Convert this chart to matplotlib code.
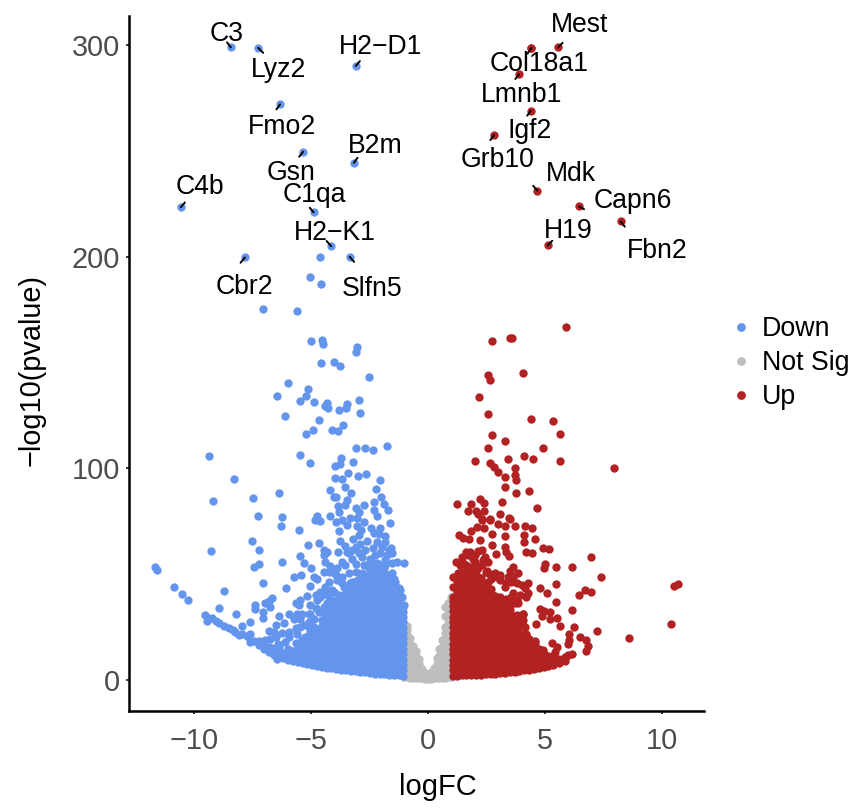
import matplotlib
matplotlib.use("Agg")
import matplotlib.pyplot as plt
from matplotlib.lines import Line2D

plt.rcParams['font.family'] = ['Liberation Sans', 'DejaVu Sans']

# labelled genes
gene_names = ["C3", "Lyz2", "H2\u2212D1", "Fmo2", "Gsn", "B2m", "C4b", "C1qa", "H2\u2212K1", "Cbr2", "Slfn5",
              "Mest", "Col18a1", "Lmnb1", "Igf2", "Grb10", "Mdk", "Capn6", "H19", "Fbn2"]
gene_x = [-8.17, -7.04, -2.99, -6.13, -5.17, -3.07, -10.25, -4.74, -4.01, -7.59, -3.24,
          5.41, 4.30, 3.78, 4.27, 2.75, 4.54, 6.27, 4.97, 8.00]
gene_y = [299.8, 299.6, 291.0, 272.8, 250.3, 245.0, 223.9, 221.5, 205.4, 200.1, 200.4,
          299.8, 299.6, 287.0, 269.7, 258.2, 231.8, 224.3, 205.8, 217.2]
label_x = [-8.34, -6.18, -1.95, -6.06, -5.68, -2.20, -9.46, -4.69, -3.86, -7.59, -2.32,
           6.31, 4.61, 3.90, 4.23, 2.90, 5.93, 8.51, 5.81, 9.50]
label_y = [306.1, 289.0, 299.9, 261.9, 240.2, 252.9, 233.5, 229.7, 211.6, 186.1, 185.1,
           310.3, 291.8, 277.1, 260.0, 246.3, 239.6, 226.8, 212.6, 203.1]
# where the short connector of each label ends
seg_x = [-8.33, -6.83, -2.82, -6.28, -5.34, -2.92, -10.08, -4.90, -4.20, -7.77, -3.06,
         5.59, 4.14, 3.63, 4.12, 2.59, 4.37, 6.48, 5.16, 8.17]
seg_y = [302.2, 297.2, 293.3, 270.4, 247.9, 247.4, 226.2, 223.7, 207.9, 197.6, 198.0,
         302.0, 296.9, 284.8, 267.4, 255.8, 234.1, 223.0, 208.0, 214.7]

# scattered points, read one by one
down_x = [-4.49, -4.87, -4.45, -6.82, -5.41, -4.85, -4.40, -4.36, -2.96, -3.00, -4.44, -3.91, -3.65, -2.44, -5.81,
          -4.98, -6.25, -5.05, -5.30, -4.74, -4.20, -4.27, -4.15, -3.37, -3.40, -3.69, -2.85, -2.81, -5.93, -4.51,
          -3.50, -3.97, -3.72, -4.78, -5.06, -1.69, -3.00, -2.59, -2.27, -9.07, -5.30, -4.90, -3.61, -3.11, -3.65,
          -3.85, -3.31, -2.57, -2.88, -3.86, -3.58, -2.00, -8.05, -3.44, -2.16, -4.08,
          -8.92, -8.98, -11.30, -11.23, -10.54, -10.20, -9.95, -8.47, -8.66, -7.96, -9.26, -9.16, -8.95, -8.68, -8.26,
          -7.98, -7.73, -7.36, -7.85, -7.36, -7.36, -6.88, -7.26, -7.04, -6.17, -6.06, -6.09, -5.33, -7.29, -6.99,
          -6.99, -7.22, -6.82, -6.03, -4.99, -4.53, -5.29, -5.12, -4.84, -5.56, -5.26, -4.73, -4.60, -4.87, -5.88,
          -6.45, -6.60, -6.74, -6.56, -7.18, -7.18, -6.84, -6.84, -6.16, -5.97, -6.32, -6.60, -6.37, -6.05, -5.74,
          -6.56, -6.25, -5.77, -5.49, -5.29, -5.01, -5.42, -5.29, -4.87, -4.66, -5.49, -4.73, -5.08,
          -3.17, -3.88, -3.81, -1.93, -2.22, -3.35, -3.42, -1.83, -3.74, -2.65, -1.65, -3.00, -2.24, -2.11, -2.84,
          -3.70, -4.04, -4.60, -4.69, -4.46, -3.81, -3.56, -3.25, -3.35, -2.96, -2.66, -1.58, -2.94, -3.70, -2.76,
          -2.37, -2.00, -2.24, -2.04, -1.76, -3.12, -2.87, -2.53, -3.63, -3.42, -3.00, -2.10, -1.76, -2.27, -1.51,
          -3.72, -4.32, -4.18, -4.32, -3.35, -2.87, -2.00, -1.69, -1.48, -3.56, -4.25, -3.00, -2.52, -4.07, -4.29,
          -3.97, -3.00, -1.00, -1.28, -3.28, -3.77, -3.56, -4.25, -4.46, -3.90, -3.49, -3.14, -4.11, -4.39, -4.18,
          -4.46, -4.25, -3.97, -3.70, -3.42, -3.21, -2.87, -2.73, -2.45, -2.10, -1.76, -1.48, -1.35, -1.14, -1.00, -1.07,
          -4.11, -4.32, -4.52, -4.73, -4.94, -4.39, -5.08, -5.29, -4.87, -5.22, -5.49, -5.91, -6.19, -5.77, -5.08,
          -4.11, -3.77, -3.42, -3.14, -2.73, -2.38, -2.18, -2.66, -2.24, -1.76, -1.48, -1.90, -2.80, -3.28, -3.14, -2.59,
          -3.83, -3.56, -4.11, -4.66, -4.60, -5.36, -5.22, -4.87, -4.25, -5.56, -4.94, -5.77, -5.42, -4.94, -6.32, -6.74,
          -6.46, -1.62]
down_y = [200.1, 190.6, 187.6, 175.5, 174.8, 160.4, 160.9, 159.1, 157.6, 155.2, 150.1, 150.6, 148.7, 143.5, 140.3,
          137.8, 134.2, 134.2, 131.9, 131.5, 130.8, 129.7, 128.8, 130.4, 128.8, 127.8, 132.4, 126.2, 125.0, 122.8,
          120.5, 118.0, 117.7, 118.0, 116.1, 110.7, 109.5, 109.5, 108.7, 106.0, 106.3, 102.5, 104.7, 103.0, 102.2,
          101.2, 98.0, 97.2, 96.3, 95.2, 94.9, 94.4, 94.8, 91.3, 90.2, 89.7,
          84.4, 61.0, 53.3, 51.7, 43.9, 40.3, 37.3, 42.0, 33.8, 31.0, 30.6, 27.5, 28.8, 26.4, 24.0,
          22.4, 25.1, 26.9, 20.8, 21.6, 17.7, 16.1, 85.9, 77.2, 88.4, 76.7, 72.4, 70.7, 65.5, 61.2,
          54.7, 53.1, 45.8, 55.6, 63.4, 64.7, 58.3, 54.9, 52.5, 48.4, 49.6, 48.4, 47.7, 44.1, 43.3,
          38.6, 37.1, 35.9, 34.3, 35.1, 33.2, 31.6, 29.1, 29.9, 26.4, 25.6, 22.7, 22.1, 21.9, 20.0,
          18.8, 9.3, 31.1, 36.2, 37.4, 39.3, 31.1, 28.7, 35.1, 33.8, 24.0, 24.8, 20.0,
          88.1, 86.5, 86.5, 86.5, 84.1, 85.2, 82.5, 83.3, 82.1, 82.5, 80.0, 81.0, 80.0, 77.5, 79.4,
          79.4, 77.2, 77.3, 75.4, 75.0, 74.6, 75.4, 76.5, 73.1, 76.2, 74.6, 74.2, 72.6, 70.4, 70.7,
          71.5, 71.9, 69.1, 68.8, 68.0, 66.7, 68.3, 65.5, 65.6, 63.1, 62.8, 65.1, 65.1, 62.4, 62.0,
          60.4, 61.2, 60.4, 59.1, 60.4, 59.6, 59.6, 58.8, 59.9, 55.6, 55.6, 54.5, 54.0, 53.6, 50.6,
          50.9, 50.9, 55.0, 55.6, 50.4, 46.9, 48.2, 43.8, 41.4, 41.4, 43.8, 46.2, 39.0, 39.8, 35.9,
          39.0, 41.4, 42.2, 39.8, 43.8, 45.4, 46.9, 50.1, 52.5, 54.9, 54.0, 50.1, 46.2, 42.2, 35.1, 39.0,
          35.9, 34.3, 31.9, 28.7, 31.1, 28.0, 25.6, 24.8, 23.2, 18.5, 16.9, 17.7, 15.3, 13.7, 15.3,
          50.9, 52.5, 54.0, 57.2, 58.0, 57.2, 58.8, 54.0, 54.9, 56.4, 54.9, 62.8, 64.3, 59.6, 61.2, 61.2,
          49.3, 45.4, 46.2, 39.8, 37.4, 35.1, 31.1, 31.1, 31.1, 28.7, 27.2, 22.4, 21.6, 20.8, 20.0, 18.5,
          14.5, 61.2]

# the solid part of the cloud, read column by column
down_columns = [
    (-1.03, [1.6, 4.2, 6.7, 9.1, 11.8, 14.2, 16.9, 19.3, 21.8, 24.4, 26.9, 29.3, 31.8, 34.4]),
    (-1.20, [1.7, 3.1, 5.6, 8.2, 10.7, 13.3, 15.7, 18.4, 20.9, 23.3, 25.9, 28.4, 31.0, 33.4, 36.1, 38.6, 41.2, 43.1]),
    (-1.40, [1.8, 4.4, 6.9, 9.5, 12.1, 14.6, 17.1, 19.7, 22.2, 24.8, 27.3, 29.8, 32.4, 34.9, 37.5, 40.1, 42.6, 45.1, 47.6]),
    (-1.60, [2.0, 3.3, 5.8, 8.3, 10.9, 13.4, 16.0, 18.5, 21.1, 23.6, 26.2, 28.7, 31.3, 33.8, 36.4, 38.9, 41.5, 44.0, 46.6, 49.4]),
    (-1.80, [2.2, 4.6, 7.2, 9.7, 12.3, 14.8, 17.4, 19.9, 22.5, 25.0, 27.6, 30.1, 32.7, 35.2, 37.8, 40.3, 42.9, 45.4, 48.0, 50.5, 52.6]),
    (-2.00, [2.4, 3.6, 6.1, 8.7, 11.2, 13.8, 16.3, 18.9, 21.4, 24.0, 26.5, 29.1, 31.6, 34.2, 36.7, 39.3, 41.8, 44.4, 46.9, 49.5, 52.0, 53.9]),
    (-2.20, [2.6, 5.0, 7.5, 10.1, 12.6, 15.2, 17.7, 20.3, 22.8, 25.4, 27.9, 30.5, 33.0, 35.6, 38.1, 40.7, 43.2, 45.8, 48.3, 50.9, 53.0]),
    (-2.40, [2.9, 4.1, 6.6, 9.2, 11.7, 14.3, 16.8, 19.4, 21.9, 24.5, 27.0, 29.6, 32.1, 34.7, 37.2, 39.8, 42.3, 44.9, 47.4, 50.0, 51.6]),
    (-2.60, [3.1, 5.6, 8.1, 10.7, 13.2, 15.8, 18.3, 20.9, 23.4, 26.0, 28.5, 31.1, 33.6, 36.2, 38.7, 41.3, 43.8, 46.4, 49.1]),
    (-2.80, [3.4, 4.7, 7.2, 9.8, 12.3, 14.9, 17.4, 20.0, 22.5, 25.1, 27.6, 30.2, 32.7, 35.3, 37.8, 40.4, 42.9, 45.5, 47.6]),
    (-3.00, [3.6, 6.2, 8.7, 11.3, 13.8, 16.4, 18.9, 21.5, 24.0, 26.6, 29.1, 31.7, 34.2, 36.8, 39.3, 41.9, 44.4, 46.6]),
    (-3.20, [3.9, 5.4, 7.9, 10.5, 13.0, 15.6, 18.1, 20.7, 23.2, 25.8, 28.3, 30.9, 33.4, 36.0, 38.5, 41.1, 43.7]),
    (-3.40, [4.2, 6.9, 9.4, 12.0, 14.5, 17.1, 19.6, 22.2, 24.7, 27.3, 29.8, 32.4, 34.9, 37.5, 40.0, 42.3]),
    (-3.60, [4.5, 6.0, 8.5, 11.1, 13.6, 16.2, 18.7, 21.3, 23.8, 26.4, 28.9, 31.5, 34.0, 36.6, 39.4]),
    (-3.80, [4.8, 7.6, 10.1, 12.7, 15.2, 17.8, 20.3, 22.9, 25.4, 28.0, 30.5, 33.1, 35.6, 37.3]),
    (-4.00, [5.0, 6.7, 9.2, 11.8, 14.3, 16.9, 19.4, 22.0, 24.5, 27.1, 29.6, 32.2, 34.7]),
    (-4.20, [5.4, 8.2, 10.7, 13.3, 15.8, 18.4, 20.9, 23.5, 26.0, 28.6, 31.2]),
    (-4.40, [5.8, 7.4, 9.9, 12.5, 15.0, 17.6, 20.1, 22.7, 25.2, 27.8]),
    (-4.60, [6.2, 8.9, 11.4, 14.0, 16.5, 19.1, 21.6, 23.6]),
    (-4.80, [6.6, 8.0, 10.5, 13.1, 15.6, 18.2, 20.4]),
    (-5.00, [7.0, 9.5, 12.0, 14.6, 17.1, 18.9]),
    (-5.20, [7.4, 9.0, 11.5, 14.1, 16.3]),
    (-5.40, [7.9, 10.4, 13.0, 15.1]),
    (-5.60, [8.5, 10.9, 13.4]),
    (-5.80, [9.1, 11.6, 14.3]),
    (-6.00, [9.8, 12.3]),
    (-6.20, [10.6, 13.2, 16.4]),
    (-6.40, [11.5, 14.0]),
    (-6.60, [12.6, 15.1]),
    (-6.80, [14.3, 16.7]),
    (-7.00, [16.2, 18.1]),
    (-7.20, [18.0]),
    (-7.50, [20.6]),
    (-7.70, [21.5]),
    (-8.10, [23.2]),
    (-8.45, [25.3]),
    (-8.80, [27.7]),
    (-9.10, [29.2]),
]

up_x = [4.30, 5.74, 2.68, 3.40, 3.49, 2.48, 2.59, 3.93, 2.12, 2.50, 4.26, 5.19, 5.50, 2.68, 3.21, 2.49, 4.76, 3.97, 4.38, 3.33,
        1.96, 5.48, 2.57, 2.74, 2.92, 3.20, 3.62, 3.61, 3.64, 7.72, 3.22, 3.67, 4.19, 2.16, 2.31, 3.06, 1.20, 1.81, 4.51, 1.67,
        1.99, 2.34, 2.99, 2.09, 2.23, 2.57, 3.37,
        7.18, 6.76, 5.96, 5.31, 4.87, 4.83, 4.79, 5.03, 4.07, 4.34, 4.44, 4.00, 4.00, 4.04, 4.34, 3.60, 3.39, 3.20, 2.92,
        2.59, 2.25, 2.02, 1.81, 2.34, 2.67, 3.20, 2.16, 1.30, 1.47, 1.70, 2.68, 3.20, 3.26, 2.82, 3.36, 2.09, 2.25, 1.60,
        1.16, 1.40, 1.88, 2.37, 2.50, 2.09, 2.46, 3.54, 3.40, 3.76, 1.05, 1.40, 2.09, 2.85, 3.33, 2.50, 3.68, 4.14, 4.03,
        4.66, 5.30, 4.95, 6.51, 6.75, 6.25, 5.33, 5.97, 4.65, 4.83, 5.06, 4.72, 5.06, 5.37, 5.50, 4.48, 6.07, 7.00, 5.86,
        6.31, 6.56, 5.85, 5.82, 6.65, 6.58, 5.13, 5.34, 5.27, 5.96, 5.82, 5.68, 5.34, 8.34, 10.10, 10.21, 10.39,
        3.96, 4.16, 4.09, 3.75, 3.33, 3.89, 4.07, 4.44, 3.82,
        1.05, 1.26, 1.47, 1.67, 1.95, 2.23, 2.43, 2.64, 2.99, 3.19, 3.47, 3.54, 3.82, 3.26, 3.61, 2.99, 3.40, 3.96, 3.75,
        4.03, 3.61, 4.09, 4.44, 4.78, 4.92, 5.20, 3.82,
        1.74, 1.95, 2.30, 1.33, 1.81, 1.47, 2.16, 2.78, 2.99, 2.50, 3.54, 3.26, 3.89, 3.47, 3.68, 3.06, 3.40, 3.96, 3.68,
        4.30, 4.78, 5.20]
up_y = [299.6, 166.9, 160.6, 161.7, 161.7, 144.5, 142.1, 145.1, 133.7, 125.6, 123.4, 122.5, 116.4, 115.8, 113.1, 109.5, 109.5, 105.7, 104.4, 104.4,
        103.3, 103.5, 102.7, 100.8, 98.1, 96.0, 100.0, 96.8, 94.3, 100.3, 91.1, 88.4, 89.4, 85.3, 83.4, 84.2, 82.9, 82.9, 81.0, 79.7,
        79.7, 79.7, 78.3, 78.2, 75.8, 75.8, 76.3,
        48.2, 57.9, 53.0, 53.0, 54.5, 52.5, 62.4, 61.5, 60.1, 59.6, 66.4, 68.3, 65.1, 72.6, 71.9, 72.7, 75.9, 72.6, 73.8,
        75.3, 75.4, 72.3, 70.4, 71.5, 68.8, 68.0, 65.9, 68.3, 67.0, 66.7, 63.6, 62.5, 60.4, 59.4, 58.5, 61.0, 61.3, 60.4,
        55.6, 58.0, 57.2, 57.7, 55.6, 52.5, 51.4, 53.0, 51.4, 50.1, 48.2, 50.6, 48.5, 48.5, 48.2, 46.2, 45.4, 45.7, 43.0,
        43.0, 45.2, 40.6, 42.2, 41.1, 39.7, 36.7, 32.7, 33.2, 32.4, 31.9, 30.0, 28.3, 28.8, 25.3, 26.2, 24.5, 22.9, 21.6,
        20.0, 18.5, 18.5, 16.6, 15.6, 13.1, 16.9, 15.0, 12.9, 12.1, 11.3, 9.8, 9.0, 19.4, 25.9, 44.1, 44.9,
        30.8, 40.9, 39.0, 35.9, 35.9, 26.7, 21.6, 18.1, 18.5,
        43.8, 50.1, 54.9, 58.8, 55.6, 54.0, 50.9, 47.7, 46.9, 43.8, 46.2, 40.6, 39.8, 38.2, 35.9, 39.0, 32.7, 31.1, 27.2,
        24.8, 23.2, 20.8, 16.9, 13.0, 10.6, 8.2, 18.5,
        60.4, 58.8, 56.4, 54.0, 51.7, 48.5, 46.9, 50.1, 49.3, 50.1, 48.5, 45.4, 44.6, 39.0, 37.4, 35.9, 35.1, 28.0, 30.3,
        14.5, 13.7, 10.6]

up_columns = [
    (1.03, [1.5, 4.1, 6.6, 9.2, 11.7, 14.3, 16.8, 19.4, 21.9, 24.5, 27.0, 29.6, 32.1, 34.7, 37.2, 39.0]),
    (1.20, [1.6, 2.9, 5.4, 8.0, 10.5, 13.1, 15.6, 18.2, 20.7, 23.3, 25.8, 28.4, 30.9, 33.5, 36.0, 38.6, 41.1, 43.7, 46.4]),
    (1.40, [1.7, 4.3, 6.8, 9.4, 11.9, 14.5, 17.0, 19.6, 22.1, 24.7, 27.2, 29.8, 32.3, 34.9, 37.4, 40.0, 42.5, 45.1, 47.6, 50.2]),
    (1.60, [1.7, 3.1, 5.6, 8.2, 10.7, 13.3, 15.8, 18.4, 20.9, 23.5, 26.0, 28.6, 31.1, 33.7, 36.2, 38.8, 41.3, 43.9, 46.4, 49.0, 51.5, 54.1]),
    (1.80, [1.8, 4.5, 7.0, 9.6, 12.1, 14.7, 17.2, 19.8, 22.3, 24.9, 27.4, 30.0, 32.5, 35.1, 37.6, 40.2, 42.7, 45.3, 47.8, 50.4, 53.0]),
    (2.00, [1.9, 3.3, 5.8, 8.4, 10.9, 13.5, 16.0, 18.6, 21.1, 23.7, 26.2, 28.8, 31.3, 33.9, 36.4, 39.0, 41.5, 44.1, 46.6, 49.2, 51.4]),
    (2.20, [2.0, 4.7, 7.2, 9.8, 12.3, 14.9, 17.4, 20.0, 22.5, 25.1, 27.6, 30.2, 32.7, 35.3, 37.8, 40.4, 42.9, 45.5, 47.9]),
    (2.40, [2.2, 3.6, 6.1, 8.7, 11.2, 13.8, 16.3, 18.9, 21.4, 24.0, 26.5, 29.1, 31.6, 34.2, 36.7, 39.3, 41.8, 44.4]),
    (2.60, [2.3, 5.0, 7.5, 10.1, 12.6, 15.2, 17.7, 20.3, 22.8, 25.4, 27.9, 30.5, 33.0, 35.6, 38.1, 40.7, 42.8]),
    (2.80, [2.5, 3.9, 6.4, 9.0, 11.5, 14.1, 16.6, 19.2, 21.7, 24.3, 26.8, 29.4, 31.9, 34.5, 37.0, 39.5]),
    (3.00, [2.7, 5.2, 7.7, 10.3, 12.8, 15.4, 17.9, 20.5, 23.0, 25.6, 28.1, 30.7, 33.2, 35.8, 37.4]),
    (3.20, [3.0, 4.3, 6.8, 9.4, 11.9, 14.5, 17.0, 19.6, 22.1, 24.7, 27.2, 29.8, 32.3, 34.4]),
    (3.40, [3.2, 5.7, 8.2, 10.8, 13.3, 15.9, 18.4, 21.0, 23.5, 26.1, 28.6, 31.2]),
    (3.60, [3.5, 4.9, 7.4, 10.0, 12.5, 15.1, 17.6, 20.2, 22.7, 25.3, 28.0]),
    (3.80, [3.8, 6.2, 8.7, 11.3, 13.8, 16.4, 18.9, 21.5, 24.6]),
    (4.00, [4.1, 5.5, 8.0, 10.6, 13.1, 15.7, 18.2, 21.3]),
    (4.20, [4.4, 6.9, 9.4, 12.0, 14.5, 17.1, 18.8]),
    (4.40, [4.8, 6.3, 8.8, 11.4, 13.9, 15.8]),
    (4.60, [5.2, 7.7, 10.2, 12.8, 14.4]),
    (4.80, [5.7, 7.2, 9.7, 11.9]),
    (5.00, [6.2, 8.6, 11.0]),
    (5.20, [6.8, 9.0, 11.1]),
    (5.45, [7.6, 9.7]),
    (5.70, [8.6, 10.4]),
]

nosig_columns = [
    (-0.97, [1.0, 3.6, 6.1, 8.7, 11.2, 13.8, 16.3, 18.9, 21.4, 23.8, 26.3]),
    (-0.85, [0.8, 2.9, 5.4, 8.0, 10.5, 13.1, 15.6, 18.2, 20.7, 23.3, 25.3]),
    (-0.72, [0.6, 3.8, 6.3, 8.9, 11.4, 14.0, 16.5, 19.5]),
    (-0.60, [0.5, 2.6, 5.1, 7.7, 10.2, 12.8, 15.5]),
    (-0.48, [0.4, 3.2, 5.7, 8.3, 10.8, 13.3]),
    (-0.36, [0.3, 2.0, 4.5, 7.1, 9.6]),
    (-0.24, [0.3, 2.4, 4.6]),
    (-0.12, [0.2, 1.6, 2.8]),
    (0.00, [0.2, 0.9]),
    (0.12, [0.2, 1.7, 3.1]),
    (0.24, [0.3, 2.6, 5.3]),
    (0.36, [0.3, 2.2, 4.7, 7.3, 9.8]),
    (0.48, [0.4, 3.4, 5.9, 8.5, 11.0, 14.4]),
    (0.60, [0.5, 2.7, 5.2, 7.8, 10.3, 12.9, 15.4, 18.6]),
    (0.72, [0.6, 3.9, 6.4, 9.0, 11.5, 14.1, 16.6, 19.2, 21.7, 24.5, 29.8, 34.1]),
    (0.85, [0.8, 3.0, 5.5, 8.1, 10.6, 13.2, 15.7, 18.3, 20.8, 23.4, 25.9, 28.5, 31.0, 34.4, 36.2]),
    (0.97, [1.0, 3.7, 6.2, 8.8, 11.3, 13.9, 16.4, 19.0, 21.5, 24.1, 26.6, 29.2, 31.7, 34.3, 36.8, 39.1]),
]


def expand(columns):
    xs, ys = [], []
    for x, values in columns:
        for v in values:
            xs.append(x)
            ys.append(v)
    return xs, ys


# values were first read with a slightly off ruler, correct for the real tick spacing
def fix_x(values):
    return [v * 1.03 for v in values]


def fix_y(values):
    return [v * 0.9953 + 0.47 for v in values]


fig = plt.figure(figsize=(8.54, 8.08), dpi=100)
ax = fig.add_axes([129 / 854, (808 - 710.5) / 808, (704 - 129) / 854, (710.5 - 16) / 808])

blue = "#6495ED"
grey = "#BEBEBE"
red = "#B22222"
size = 36

nx, ny = expand(nosig_columns)
ax.scatter(fix_x(nx), fix_y(ny), s=size, c=grey, linewidths=0, zorder=2)
dx, dy = expand(down_columns)
ax.scatter(fix_x(down_x + dx + gene_x[:11]), fix_y(down_y + dy + gene_y[:11]), s=size, c=blue, linewidths=0, zorder=3)
ux, uy = expand(up_columns)
ax.scatter(fix_x(up_x + ux + gene_x[11:]), fix_y(up_y + uy + gene_y[11:]), s=size, c=red, linewidths=0, zorder=3)

for x0, y0, x1, y1 in zip(fix_x(gene_x), fix_y(gene_y), fix_x(seg_x), fix_y(seg_y)):
    ax.plot([x0, x1], [y0, y1], color='black', lw=1.4, solid_capstyle='round', zorder=4)
for name, x, y in zip(gene_names, fix_x(label_x), fix_y(label_y)):
    ax.text(x, y, name, ha='center', va='center', fontsize=19.2, color='black', zorder=5)

ax.set_xlim(-12.77, 11.80)
ax.set_ylim(-14.4, 313.7)
ax.set_xticks([-10, -5, 0, 5, 10])
ax.set_yticks([0, 100, 200, 300])
ax.tick_params(axis='both', labelsize=20.8, labelcolor='#4D4D4D', color='black', width=1.1, length=2.5)
ax.tick_params(axis='x', pad=9.5)
ax.tick_params(axis='y', pad=4)
for side in ['top', 'right']:
    ax.spines[side].set_visible(False)
for side in ['left', 'bottom']:
    ax.spines[side].set_linewidth(1.8)

ax.set_xlabel('logFC', fontsize=21)
ax.set_ylabel('\u2212log10(pvalue)', fontsize=20.8)
ax.xaxis.set_label_coords(0.538, -0.0906)
ax.yaxis.set_label_coords(-0.146, 0.491)

handles = [Line2D([], [], ls='', marker='o', ms=6.3, mfc=c, mec=c, mew=0) for c in [blue, grey, red]]
fig.legend(handles, ['Down', 'Not Sig', 'Up'], loc='center left', bbox_to_anchor=(727.6 / 854, (808 - 363) / 808),
           frameon=False, fontsize=19.3, handlelength=1, handletextpad=0.28, labelspacing=0.3,
           borderpad=0, borderaxespad=0)

fig.savefig('out.png', dpi=100)
